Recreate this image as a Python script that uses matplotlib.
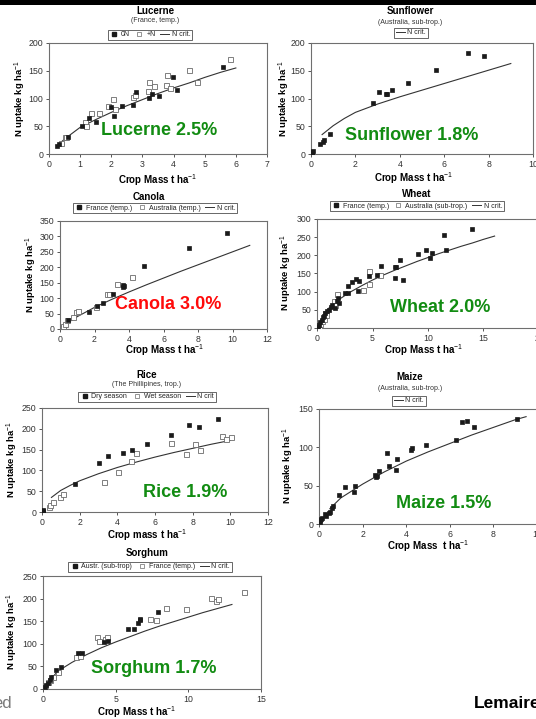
import matplotlib
matplotlib.use("Agg")
import matplotlib.pyplot as plt
from matplotlib.patches import Rectangle
from matplotlib.lines import Line2D

plt.rcParams['font.family'] = ['Liberation Sans', 'DejaVu Sans']
plt.rcParams['mathtext.fontset'] = 'custom'
plt.rcParams['mathtext.rm'] = 'Liberation Sans'
plt.rcParams['mathtext.bf'] = 'Liberation Sans:bold'

W, H = 536, 719

# ---------------- data ----------------
# Lucerne
luc_0N_x = [0.26, 0.32, 0.61, 1.07, 1.29, 1.5, 2.0, 2.09, 2.36, 2.69, 2.79, 3.2, 3.3, 3.54, 3.97, 4.12, 5.59]
luc_0N_y = [15, 18, 31, 51, 64, 58, 84, 69, 86, 89, 111, 101, 108, 105, 139, 115, 157]
luc_N_x = [0.4, 0.5, 0.56, 1.15, 1.2, 1.36, 1.61, 1.9, 2.04, 2.12, 2.7, 2.76, 3.19, 3.2, 3.37, 3.75, 3.8, 3.89, 4.49, 4.75, 5.82]
luc_N_y = [20, 30, 30, 58, 51, 73, 73, 86, 100, 81, 102, 107, 114, 129, 123, 124, 142, 119, 152, 130, 171]
luc_crit_x = [0.25, 0.5, 1, 1.5, 2, 2.5, 3, 3.5, 4, 4.5, 5, 5.5, 6]
luc_crit_y = [14, 27, 48, 62, 75, 87, 98, 109, 119, 128, 138, 147, 155]

# Sunflower
sun_x = [0.0, 0.03, 0.06, 0.1, 0.39, 0.54, 0.59, 0.84, 2.81, 3.06, 3.36, 3.42, 3.66, 4.35, 5.62, 7.09, 7.79]
sun_y = [0, 2, 4, 6, 18, 22, 25, 36, 92, 112, 108, 108, 116, 128, 151, 182, 176]
sun_crit_x = [0.5, 1, 1.5, 2, 3, 4, 5, 6, 7, 8, 9]
sun_crit_y = [35, 51, 64, 75, 90, 103, 115, 127, 139, 151, 163]

# Canola
can_fr_x = [0.48, 1.7, 2.13, 2.48, 3.09, 3.64, 3.68, 3.72, 4.87, 7.49, 9.71]
can_fr_y = [30, 55, 73, 84, 113, 143, 135, 138, 205, 264, 312]
can_au_x = [0.19, 0.29, 0.4, 0.77, 0.91, 1.03, 2.07, 2.75, 2.86, 3.33, 4.16]
can_au_y = [9, 16, 28, 38, 54, 59, 70, 115, 113, 146, 170]
can_crit_x = [0.1, 0.5, 1, 2, 3, 4, 5, 6, 7, 8, 9, 10, 11]
can_crit_y = [9, 22, 40, 70, 96, 120, 143, 165, 187, 208, 229, 250, 271]

# Wheat
wh_fr_x = [0.06, 0.2, 0.3, 0.45, 0.54, 0.66, 0.75, 0.9, 1.05, 1.26, 1.35, 1.65, 1.8, 1.9, 1.95,
           2.55, 2.76, 2.82, 3.15, 3.54, 3.75, 3.69, 4.65, 5.4, 5.76, 7.0, 7.14, 7.05, 7.5, 7.74,
           9.07, 9.82, 10.15, 10.36, 11.4, 11.65, 14.0]
wh_fr_y = [2, 9, 16, 23, 29, 34, 41, 48, 50, 59, 64, 55, 73, 83, 69,
           96, 116, 96, 127, 135, 128, 103, 142, 147, 170, 167, 167, 138, 188, 131,
           204, 216, 193, 206, 257, 216, 273]
wh_au_x = [0.15, 0.3, 0.45, 0.6, 0.69, 0.84, 1.56, 1.65, 1.8, 4.14, 4.65, 4.71, 5.7]
wh_au_y = [5, 12, 18, 26, 41, 37, 73, 62, 94, 105, 158, 121, 147]
wh_crit_x = [0.1, 0.5, 1, 2, 3, 4, 5, 6, 7, 8, 9, 10, 11, 12, 13, 14, 15, 16]
wh_crit_y = [5, 27, 53, 79, 99, 116, 132, 146, 159, 171, 183, 194, 205, 215, 225, 234, 244, 253]

# Rice
ri_dry_x = [0.04, 0.05, 0.05, 1.73, 3.0, 3.53, 4.29, 4.76, 5.59, 6.84, 7.81, 8.32, 9.35]
ri_dry_y = [0, 3, 6, 68, 118, 135, 143, 149, 163, 186, 210, 204, 223]
ri_wet_x = [0.35, 0.44, 0.56, 0.93, 1.11, 3.3, 4.02, 4.71, 4.99, 6.84, 7.67, 8.15, 8.38, 9.58, 9.79, 10.05]
ri_wet_y = [12, 18, 24, 36, 44, 71, 95, 123, 142, 166, 139, 164, 150, 183, 176, 180]
ri_crit_x = [0.5, 1, 1.5, 2, 3, 4, 5, 6, 7, 8, 9, 10]
ri_crit_y = [35, 52, 64, 75, 92, 107, 120, 132, 143, 153, 163, 172]

# Maize
mz_x = [0.03, 0.06, 0.11, 0.15, 0.26, 0.34, 0.44, 0.49, 0.61, 0.64, 0.92, 1.21, 1.61, 1.67,
        2.56, 2.61, 2.67, 2.75, 3.1, 3.21, 3.51, 3.56, 4.2, 4.25, 4.91, 6.29, 6.55, 6.78, 7.13, 9.08]
mz_y = [3, 5, 7, 8, 13, 11, 14, 16, 21, 23, 38, 48, 42, 50,
        64, 61, 63, 69, 92, 76, 71, 85, 97, 99, 103, 109, 133, 134, 126, 137]
mz_crit_x = [0.5, 1, 2, 3, 4, 5, 6, 7, 8, 9, 9.5]
mz_crit_y = [20, 34, 52, 68, 82, 94, 105, 116, 126, 136, 140]

# Sorghum
so_au_x = [0.12, 0.23, 0.35, 0.46, 0.58, 0.92, 1.22, 2.42, 2.66, 4.2, 4.5, 5.82, 6.28, 6.54, 6.65, 6.7, 7.92]
so_au_y = [4, 9, 14, 20, 26, 42, 49, 79, 79, 103, 106, 133, 133, 145, 153, 154, 171]
so_fr_x = [0.0, 0.16, 0.35, 0.51, 0.69, 1.04, 2.26, 2.54, 3.74, 3.86, 4.27, 4.39, 7.39, 7.78, 8.47, 9.86, 11.55, 11.9, 12.06, 13.85]
so_fr_y = [3, 7, 16, 21, 27, 38, 70, 74, 114, 107, 111, 114, 155, 153, 179, 176, 201, 195, 200, 214]
so_crit_x = [0.2, 0.5, 1, 2, 3, 4, 5, 6, 7, 8, 9, 10, 11, 12, 13]
so_crit_y = [8, 20, 39, 59, 76, 91, 104, 116, 128, 139, 149, 159, 169, 178, 187]

# ---------------- styling helpers ----------------
GREEN = '#128c12'
RED = '#ff0a0a'
FILL = '#1a1a1a'
OPEN_EDGE = '#6a6a6a'
SPINE = '#6f6f6f'
TICKC = '#3a3a3a'

fig = plt.figure(figsize=(W / 100, H / 100), dpi=100)
fig.patch.set_facecolor('white')
fig.patches.append(Rectangle((0, 1 - 5 / H), 1, 5 / H, transform=fig.transFigure,
                             facecolor='black', edgecolor='none', zorder=10))


def make_ax(x0, x1, ytop, ybot, xlim, ylim, xticks, yticks):
    ax = fig.add_axes([x0 / W, 1 - ybot / H, (x1 - x0) / W, (ybot - ytop) / H])
    ax.set_xlim(*xlim)
    ax.set_ylim(*ylim)
    ax.set_xticks(xticks)
    ax.set_yticks(yticks)
    for s in ax.spines.values():
        s.set_color(SPINE)
        s.set_linewidth(0.8)
    ax.tick_params(axis='both', labelsize=6.3, colors=TICKC, length=2.5, width=0.6, pad=1.5)
    for lab in ax.get_xticklabels() + ax.get_yticklabels():
        lab.set_color('#333333')
    ax.patch.set_alpha(0)
    return ax


def scat_fill(ax, x, y):
    ax.plot(x, y, ls='none', marker='s', ms=3.4, mfc=FILL, mec=FILL, mew=0.5, zorder=4)


def scat_open(ax, x, y):
    ax.plot(x, y, ls='none', marker='s', ms=3.6, mfc='white', mec=OPEN_EDGE, mew=0.6, zorder=3)


def crit(ax, x, y):
    ax.plot(x, y, color='#333333', lw=0.8, zorder=2)


def xlab(px, py, text='Crop Mass t ha$^{-1}$'):
    fig.text(px / W, 1 - py / H, text, ha='center', va='center', fontsize=7, fontweight='bold')


def ylab(px, py):
    fig.text(px / W, 1 - py / H, 'N uptake kg ha$^{-1}$', ha='center', va='center',
             rotation=90, fontsize=6.8, fontweight='bold')


def title(px, py, t, sub=None, sub_py=None):
    fig.text(px / W, 1 - py / H, t, ha='center', va='center', fontsize=7, fontweight='bold')
    if sub:
        fig.text(px / W, 1 - sub_py / H, sub, ha='center', va='center', fontsize=5, color='#333333')


def legend(px, py, items):
    handles, labels = [], []
    for kind, lab in items:
        if kind == 'fill':
            h = Line2D([], [], ls='none', marker='s', ms=2.8, mfc=FILL, mec=FILL)
        elif kind == 'open':
            h = Line2D([], [], ls='none', marker='s', ms=3.0, mfc='white', mec=OPEN_EDGE, mew=0.5)
        else:
            h = Line2D([], [], color='#333333', lw=0.7)
        handles.append(h)
        labels.append(lab)
    leg = fig.legend(handles, labels, loc='center', bbox_to_anchor=(px / W, 1 - py / H),
                     ncol=len(items), fontsize=5.0, frameon=True, fancybox=False,
                     handlelength=1.3, handletextpad=0.35, columnspacing=0.7,
                     borderpad=0.25, borderaxespad=0)
    leg.get_frame().set_edgecolor('#222222')
    leg.get_frame().set_linewidth(0.6)
    for t in leg.get_texts():
        t.set_color('#222222')
    return leg


def label(ax, x, y, text, color=GREEN):
    ax.text(x, y, text, ha='center', va='center', fontsize=13, fontweight='bold', color=color, zorder=6)


# ---------------- Lucerne ----------------
ax = make_ax(49, 267, 43, 154, (0, 7), (0, 200), range(0, 8), range(0, 201, 50))
crit(ax, luc_crit_x, luc_crit_y)
scat_open(ax, luc_N_x, luc_N_y)
scat_fill(ax, luc_0N_x, luc_0N_y)
label(ax, 3.55, 43, 'Lucerne 2.5%')
title(155, 11, 'Lucerne', '(France, temp.)', 21)
legend(150, 35, [('fill', '0N'), ('open', '+N'), ('line', 'N crit.')])
xlab(158, 180)
ylab(20, 99)

# ---------------- Sunflower ----------------
ax = make_ax(311, 533, 43, 154, (0, 10), (0, 200), range(0, 11, 2), range(0, 201, 50))
crit(ax, sun_crit_x, sun_crit_y)
scat_fill(ax, sun_x, sun_y)
label(ax, 4.55, 34, 'Sunflower 1.8%')
title(410, 11, 'Sunflower', '(Australia, sub-trop.)', 22)
legend(411, 33, [('line', 'N crit.')])
xlab(414, 178)
ylab(284, 99)

# ---------------- Canola ----------------
ax = make_ax(60, 267, 221, 329, (0, 12), (0, 350), range(0, 13, 2), range(0, 351, 50))
crit(ax, can_crit_x, can_crit_y)
scat_open(ax, can_au_x, can_au_y)
scat_fill(ax, can_fr_x, can_fr_y)
label(ax, 6.25, 78, 'Canola 3.0%', color=RED)
title(149, 197, 'Canola')
legend(155, 208, [('fill', 'France (temp.)'), ('open', 'Australia (temp.)'), ('line', 'N crit.')])
xlab(165, 350)
ylab(31, 275)

# ---------------- Wheat ----------------
ax = make_ax(317, 539, 219, 328, (0, 20), (0, 300), range(0, 21, 5), range(0, 301, 50))
crit(ax, wh_crit_x, wh_crit_y)
scat_open(ax, wh_au_x, wh_au_y)
scat_fill(ax, wh_fr_x, wh_fr_y)
label(ax, 11.1, 56, 'Wheat 2.0%')
title(417, 194, 'Wheat')
legend(417, 206, [('fill', 'France (temp.)'), ('open', 'Australia (sub-trop.)'), ('line', 'N crit.')])
xlab(424, 350)
ylab(286, 273)

# ---------------- Rice ----------------
ax = make_ax(42, 268, 408, 512, (0, 12), (0, 250), range(0, 13, 2), range(0, 251, 50))
crit(ax, ri_crit_x, ri_crit_y)
scat_open(ax, ri_wet_x, ri_wet_y)
scat_fill(ax, ri_dry_x, ri_dry_y)
label(ax, 7.6, 46, 'Rice 1.9%')
title(147, 375, 'Rice', '(The Phillipines, trop.)', 385)
legend(147, 397, [('fill', 'Dry season'), ('open', 'Wet season'), ('line', 'N crit')])
xlab(147, 535, 'Crop mass t ha$^{-1}$')
ylab(12, 460)

# ---------------- Maize ----------------
ax = make_ax(319, 537, 409, 524, (0, 10), (0, 150), range(0, 11, 2), range(0, 151, 50))
crit(ax, mz_crit_x, mz_crit_y)
scat_fill(ax, mz_x, mz_y)
label(ax, 5.7, 27, 'Maize 1.5%')
title(410, 377, 'Maize', '(Australia, sub-trop.)', 388)
legend(409, 401, [('line', 'N crit.')])
xlab(428, 546, 'Crop Mass  t ha$^{-1}$')
ylab(288, 466)

# ---------------- Sorghum ----------------
ax = make_ax(43, 261, 576, 689, (0, 15), (0, 250), range(0, 16, 5), range(0, 251, 50))
crit(ax, so_crit_x, so_crit_y)
scat_open(ax, so_fr_x, so_fr_y)
scat_fill(ax, so_au_x, so_au_y)
label(ax, 7.6, 46, 'Sorghum 1.7%')
title(147, 553, 'Sorghum')
legend(150, 567, [('fill', 'Austr. (sub-trop)'), ('open', 'France (temp.)'), ('line', 'N crit.')])
xlab(137, 712)
ylab(12, 632)

# ---------------- extra page text ----------------
fig.text(-7 / W, 1 - 704 / H, 'ed', ha='left', va='center', fontsize=12, color='#7a7a7a')
fig.text(474 / W, 1 - 704 / H, 'Lemaire', ha='left', va='center', fontsize=12.5, fontweight='bold', color='black')

fig.savefig('out.png', dpi=100, facecolor='white')
